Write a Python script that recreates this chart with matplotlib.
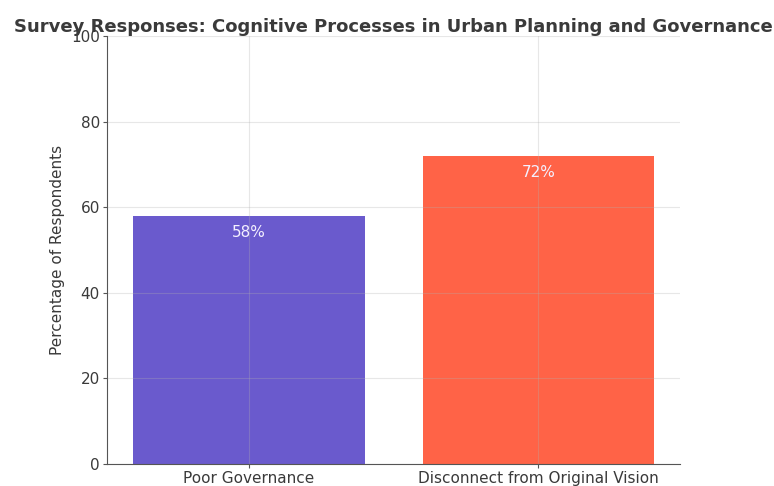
import matplotlib
matplotlib.use("Agg")
import matplotlib.pyplot as plt

categories = ["Poor Governance", "Disconnect from Original Vision"]
values = [58, 72]
colors = ["#6A5ACD", "#FF6347"]

txt = "#3a3a3a"
fig = plt.figure(figsize=(7.74, 4.86), dpi=100)
ax = fig.add_axes([0.138, 0.045, 0.741, 0.881])
bars = ax.bar(categories, values, color=colors)
for b, v in zip(bars, values):
    ax.text(b.get_x() + b.get_width() / 2, v - 4, f"{v}%", ha="center", va="center",
            color="#f4f0ff", fontsize=11)
ax.set_ylim(0, 100)
ax.set_ylabel("Percentage of Respondents", fontsize=11, color=txt)
ax.set_title("Survey Responses: Cognitive Processes in Urban Planning and Governance",
             fontsize=13, fontweight="bold", pad=2, color=txt)
ax.grid(True, alpha=0.3)
for s in ["top", "right"]:
    ax.spines[s].set_visible(False)
for s in ["left", "bottom"]:
    ax.spines[s].set_color("#555555")
ax.tick_params(labelsize=11, colors="#555555", labelcolor=txt, length=3, pad=2)
fig.savefig("out.png", dpi=100)
